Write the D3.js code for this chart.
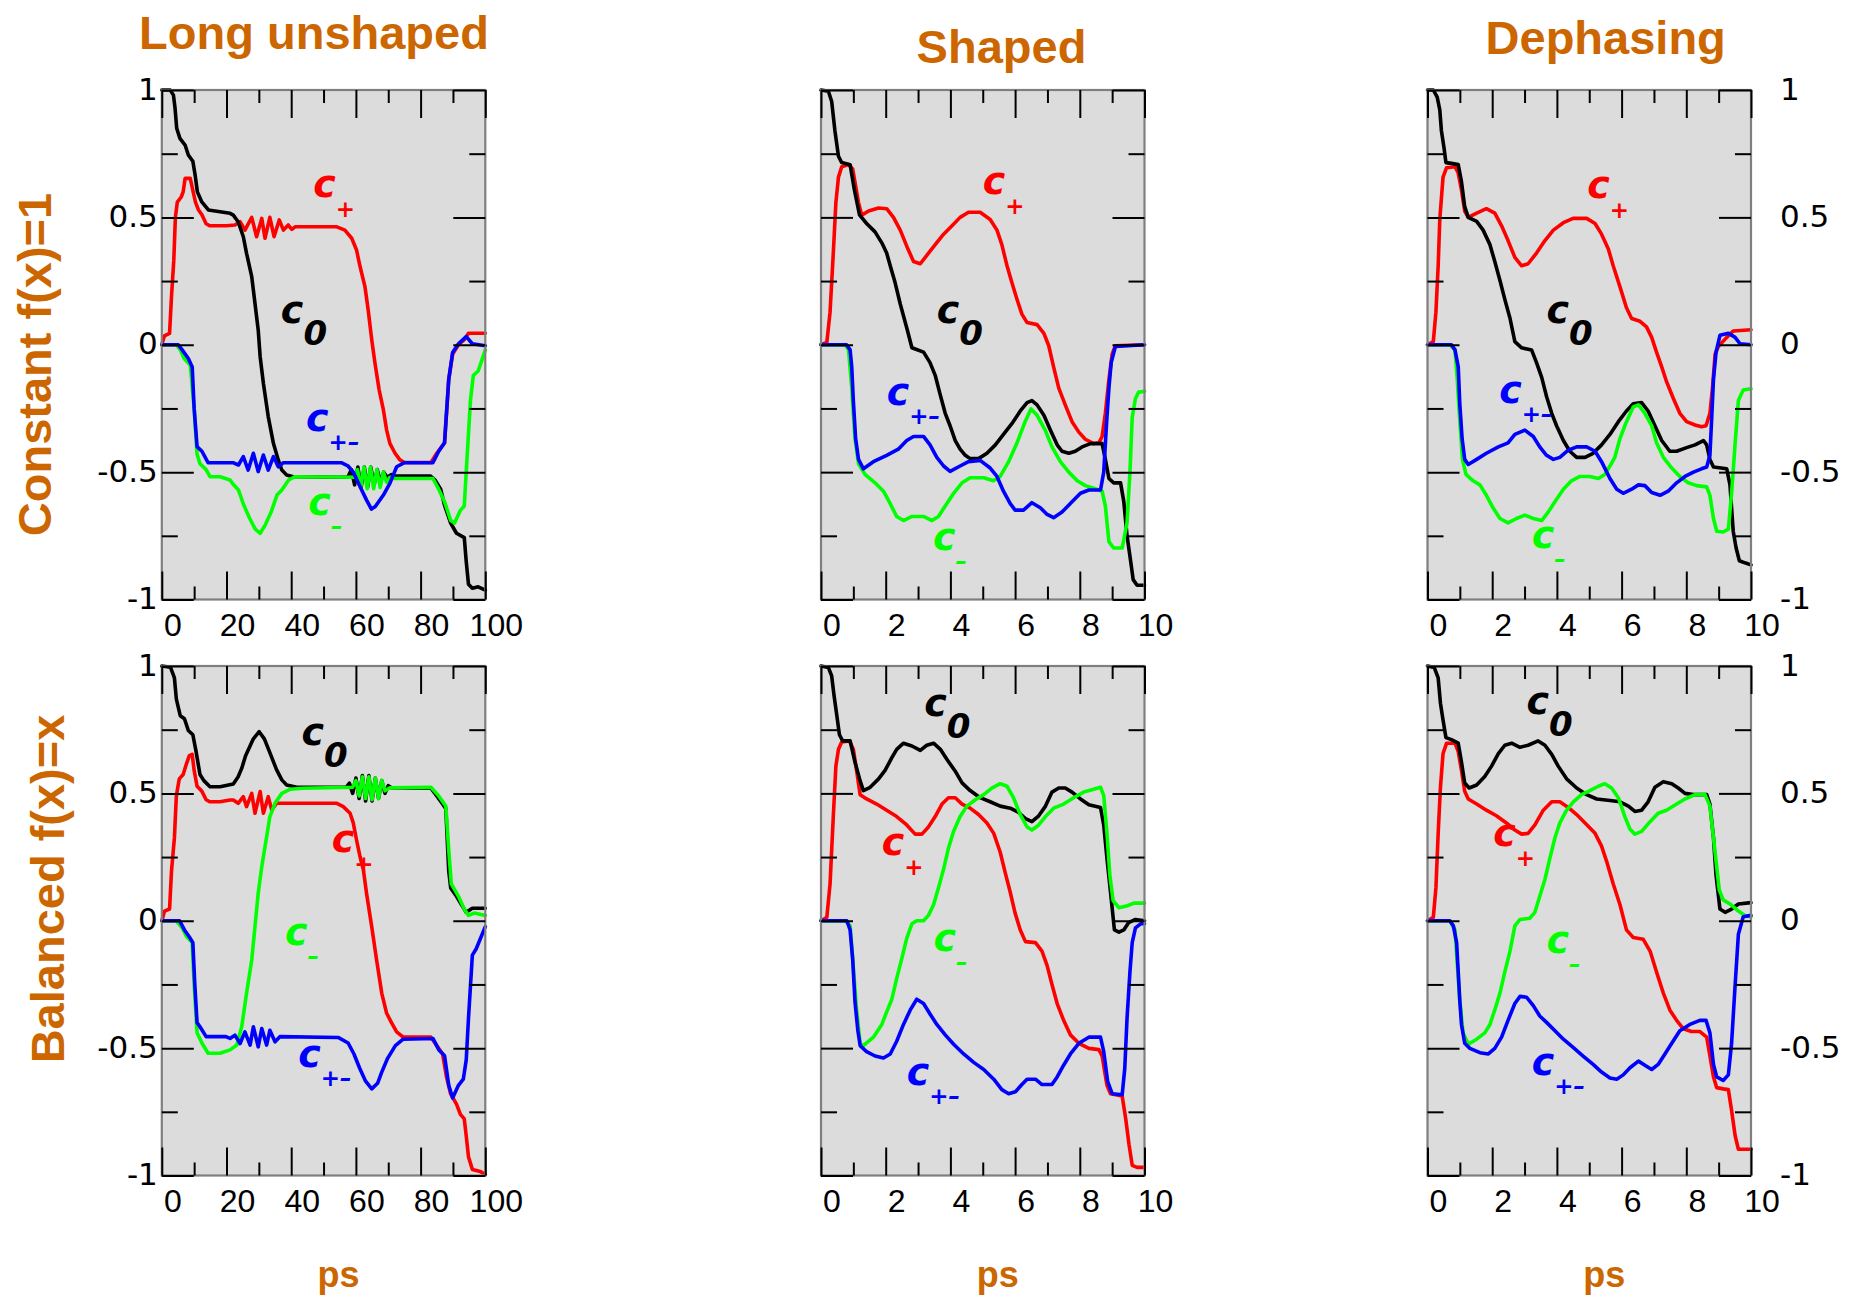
<!DOCTYPE html>
<html>
<head>
<meta charset="utf-8">
<script src="https://cdn.jsdelivr.net/npm/d3@7"></script>
<style>
  body { margin: 0; background: #ffffff; }
  svg { display: block; }
</style>
</head>
<body>
<svg id="chart" width="1852" height="1297"></svg>
<script>
// ---------------------------------------------------------------
// Column titles, row titles, axis ticks
// ---------------------------------------------------------------
const columnTitles = ["Long unshaped", "Shaped", "Dephasing"];
const rowTitles = ["Constant f(x)=1", "Balanced f(x)=x"];
const xDomains = [[0, 100], [0, 10], [0, 10]];
const xMajorTicks = [[0, 20, 40, 60, 80, 100], [0, 2, 4, 6, 8, 10], [0, 2, 4, 6, 8, 10]];
const xMinorTicks = [[10, 30, 50, 70, 90], [1, 3, 5, 7, 9], [1, 3, 5, 7, 9]];
const yMajorTicks = [1, 0.5, 0, -0.5, -1];
const yMinorTicks = [0.75, 0.25, -0.25, -0.75];
const yTickLabels = ["1", "0.5", "0", "-0.5", "-1"];
const xAxisName = "ps";

// Series: populations c0, c+, c+-, c-
const seriesOrder = ["cp", "c0", "cm", "cpm"];
const seriesColor = { c0: "#000000", cp: "#ff0000", cm: "#00ff00", cpm: "#0000ff" };
const seriesSub = { c0: "0", cp: "+", cpm: "+\u2013", cm: "\u2013" };

// ---------------------------------------------------------------
// Long unshaped pulse, constant f(x)=1   (x in ps, 0..100)
// ---------------------------------------------------------------
const unshapedConstC0 = [[0,1],[2.6,1],[3.6,0.98],[4.1,0.928],[4.6,0.85],[5.6,0.81],[7.2,0.784],[8.2,0.745],[9.6,0.72],[10.3,0.666],[11,0.6],[12.3,0.562],[14.4,0.529],[18,0.522],[21.1,0.516],[22.1,0.509],[23.6,0.483],[25.2,0.424],[26.2,0.359],[27.8,0.267],[28.8,0.163],[29.8,0.058],[30.4,-0.047],[31.4,-0.151],[32.9,-0.282],[34.5,-0.387],[36,-0.452],[37.1,-0.492],[38.6,-0.511],[40.6,-0.518],[54,-0.52],[57.5,-0.52],[58.6,-0.49],[59.6,-0.55],[60.6,-0.48],[61.6,-0.56],[62.6,-0.48],[63.6,-0.56],[64.6,-0.48],[65.6,-0.55],[66.6,-0.49],[67.6,-0.54],[68.6,-0.5],[69.6,-0.52],[71,-0.51],[72,-0.515],[83,-0.515],[84.4,-0.53],[86.2,-0.567],[87.4,-0.63],[89.3,-0.7],[91.1,-0.74],[93.5,-0.757],[94.1,-0.85],[94.8,-0.94],[96,-0.956],[97.8,-0.95],[100,-0.963]];
const unshapedConstCp = [[0,0],[0.8,0.035],[2.4,0.045],[3,0.19],[3.7,0.33],[4.2,0.5],[4.8,0.56],[6,0.58],[6.6,0.6],[7.2,0.653],[8.8,0.653],[9.7,0.6],[10.4,0.56],[11.3,0.53],[12.4,0.51],[13.7,0.475],[14.9,0.467],[20,0.467],[22.6,0.47],[24.2,0.483],[25.7,0.45],[27.8,0.5],[29.3,0.424],[30.9,0.496],[31.9,0.418],[33.4,0.5],[34.7,0.424],[36.3,0.49],[37.6,0.45],[39.1,0.47],[40.2,0.453],[41.2,0.463],[54.1,0.463],[56.6,0.45],[58.7,0.418],[60.2,0.372],[61.3,0.306],[62.8,0.228],[63.8,0.136],[64.9,0.019],[65.9,-0.073],[67.2,-0.178],[68.5,-0.256],[69.5,-0.335],[70.5,-0.387],[72.1,-0.426],[73.6,-0.452],[75,-0.462],[83.2,-0.462],[85,-0.426],[87.4,-0.385],[88.7,-0.136],[89.9,-0.037],[91.7,0],[93.5,0.02],[94.8,0.045],[100,0.045]];
const unshapedConstCpm = [[0,0],[5.1,0],[6.3,-0.02],[8.2,-0.054],[9.4,-0.087],[10,-0.25],[10.9,-0.4],[12.4,-0.418],[14.3,-0.463],[22,-0.463],[23.7,-0.472],[25.2,-0.439],[26.7,-0.492],[28.3,-0.426],[29.8,-0.498],[31.4,-0.433],[32.9,-0.492],[34.5,-0.439],[36,-0.479],[37.6,-0.463],[55.5,-0.463],[57.5,-0.475],[59.2,-0.5],[61.3,-0.557],[63.3,-0.61],[64.8,-0.645],[66,-0.635],[68.5,-0.59],[70.5,-0.544],[72.6,-0.479],[75,-0.463],[83.8,-0.463],[85.6,-0.418],[87.4,-0.385],[88.7,-0.136],[89.9,-0.03],[91.7,0.004],[94.1,0.032],[96,0.004],[100,-0.004]];
const unshapedConstCm = [[0,0],[4.5,0],[5.7,-0.02],[6.9,-0.054],[8.8,-0.08],[10,-0.25],[10.9,-0.43],[11.8,-0.467],[13.7,-0.49],[14.9,-0.518],[18,-0.518],[21.1,-0.531],[22.2,-0.55],[23.7,-0.57],[25.2,-0.625],[27.1,-0.68],[28.9,-0.724],[30.4,-0.74],[32,-0.707],[33.8,-0.657],[35.6,-0.59],[37.1,-0.57],[39.2,-0.531],[41.2,-0.518],[59.5,-0.52],[60.5,-0.49],[61.5,-0.56],[62.5,-0.48],[63.5,-0.565],[64.5,-0.48],[65.5,-0.565],[66.5,-0.49],[67.5,-0.56],[68.5,-0.5],[69.5,-0.54],[70.5,-0.52],[72,-0.525],[83.8,-0.525],[85.6,-0.567],[87.4,-0.616],[89.3,-0.69],[90.5,-0.7],[92.3,-0.65],[93.5,-0.633],[94.1,-0.5],[95.4,-0.22],[96.3,-0.12],[97.8,-0.103],[100,-0.02]];
const unshapedConstLabels = [["cp",46.8,0.581],["c0",36.8,0.084],["cpm",44.6,-0.339],["cm",45.3,-0.67]];

// ---------------------------------------------------------------
// Long unshaped pulse, balanced f(x)=x
// ---------------------------------------------------------------
const unshapedBalC0 = [[0,1],[2.7,0.995],[3.9,0.953],[4.5,0.87],[5.7,0.805],[7,0.793],[8.2,0.747],[9.6,0.73],[10.6,0.664],[11.8,0.574],[13,0.55],[14.9,0.526],[18,0.526],[22.1,0.537],[23.6,0.565],[24.7,0.598],[25.9,0.648],[28.3,0.714],[30.1,0.742],[31.7,0.714],[33.4,0.66],[35.5,0.592],[37.1,0.553],[38.6,0.533],[41.7,0.524],[57,0.524],[58,0.54],[59,0.5],[60,0.56],[61,0.48],[62,0.57],[63,0.47],[64,0.57],[65,0.47],[66,0.56],[67,0.48],[68,0.55],[69,0.5],[70,0.53],[71,0.522],[83.2,0.52],[85,0.49],[86.8,0.458],[87.8,0.44],[88.7,0.195],[89.3,0.129],[91.1,0.096],[92.3,0.07],[94.1,0.033],[96,0.049],[100,0.049]];
const unshapedBalCp = [[0,0],[0.85,0.038],[2.4,0.046],[3,0.195],[3.9,0.326],[4.5,0.49],[5.4,0.557],[6.6,0.574],[7.6,0.615],[8.5,0.648],[9.4,0.653],[10,0.59],[10.9,0.528],[12.4,0.508],[13.7,0.475],[14.9,0.467],[18,0.467],[21.1,0.474],[22.1,0.474],[23.6,0.461],[25.2,0.487],[26.2,0.448],[27.8,0.5],[28.8,0.422],[30.4,0.507],[31.4,0.422],[32.9,0.487],[34,0.435],[35.5,0.461],[37.1,0.461],[54.1,0.461],[56.1,0.448],[58.2,0.422],[59.2,0.383],[60.2,0.317],[61.3,0.25],[62.3,0.2],[63.3,0.107],[64.9,-0.024],[66.4,-0.154],[68,-0.285],[69.5,-0.363],[71,-0.4],[72.6,-0.436],[74.6,-0.457],[83.2,-0.457],[85,-0.49],[86.8,-0.523],[88,-0.613],[89.3,-0.68],[91.1,-0.72],[92.3,-0.76],[93.5,-0.778],[94.1,-0.844],[94.8,-0.927],[96,-0.976],[98.4,-0.984],[100,-0.996]];
const unshapedBalCpm = [[0,0],[5.5,0],[7,-0.036],[8.8,-0.069],[9.6,-0.086],[10.2,-0.25],[10.9,-0.4],[11.8,-0.416],[13.7,-0.455],[19.8,-0.455],[21.1,-0.462],[22.6,-0.449],[24.2,-0.482],[25.7,-0.436],[27.3,-0.488],[28.3,-0.416],[29.8,-0.495],[30.9,-0.423],[32.4,-0.488],[33.4,-0.43],[35,-0.475],[36.5,-0.455],[54.5,-0.458],[57.6,-0.48],[59.4,-0.523],[61.2,-0.58],[63,-0.63],[64.9,-0.66],[66.7,-0.638],[67.9,-0.597],[69.8,-0.54],[72.2,-0.49],[74.6,-0.465],[83.8,-0.462],[85.6,-0.506],[87.4,-0.53],[88.7,-0.646],[89.9,-0.696],[91.7,-0.646],[93.2,-0.622],[94.1,-0.547],[94.8,-0.383],[96,-0.135],[97.2,-0.11],[100,-0.023]];
const unshapedBalCm = [[0,0],[4.5,0],[6.3,-0.028],[7.6,-0.061],[9.4,-0.086],[10,-0.25],[10.9,-0.44],[12.4,-0.48],[14.3,-0.52],[18,-0.52],[21.1,-0.507],[23.2,-0.488],[24.7,-0.416],[26.2,-0.285],[27.8,-0.154],[28.8,-0.023],[29.8,0.108],[30.9,0.212],[32.4,0.33],[33.4,0.408],[35,0.461],[37.1,0.5],[39.6,0.516],[43.7,0.52],[59,0.524],[60,0.55],[61,0.49],[62,0.565],[63,0.48],[64,0.565],[65,0.475],[66,0.56],[67,0.48],[68,0.55],[69,0.51],[70.5,0.522],[83.2,0.524],[85.6,0.49],[87.8,0.45],[88.7,0.277],[89.5,0.145],[91.7,0.096],[93.5,0.046],[94.8,0.021],[96.6,0.03],[100,0.021]];
const unshapedBalLabels = [["c0",43.2,0.689],["cp",52.5,0.271],["cm",38.1,-0.095],["cpm",42.2,-0.575]];

// ---------------------------------------------------------------
// Shaped pulse, constant f(x)=1   (x in ps, 0..10)
// ---------------------------------------------------------------
const shapedConstC0 = [[0,1],[0.23,0.995],[0.33,0.955],[0.43,0.84],[0.54,0.74],[0.64,0.715],[0.9,0.707],[1.03,0.61],[1.19,0.51],[1.41,0.476],[1.67,0.443],[1.88,0.4],[2.03,0.36],[2.14,0.31],[2.29,0.244],[2.45,0.16],[2.66,0.062],[2.81,-0.012],[3.17,-0.029],[3.37,-0.07],[3.53,-0.12],[3.68,-0.194],[3.84,-0.269],[3.99,-0.318],[4.15,-0.376],[4.3,-0.41],[4.46,-0.434],[4.61,-0.447],[4.87,-0.447],[5.13,-0.426],[5.39,-0.393],[5.64,-0.352],[5.9,-0.31],[6.16,-0.26],[6.37,-0.227],[6.52,-0.219],[6.68,-0.236],[6.89,-0.277],[7.09,-0.335],[7.3,-0.393],[7.45,-0.418],[7.66,-0.426],[7.86,-0.418],[8.07,-0.401],[8.33,-0.388],[8.69,-0.388],[8.79,-0.45],[8.9,-0.525],[9.05,-0.542],[9.26,-0.542],[9.36,-0.616],[9.46,-0.749],[9.57,-0.848],[9.65,-0.922],[9.77,-0.944],[10,-0.944]];
const shapedConstCp = [[0,0],[0.18,0.009],[0.28,0.128],[0.38,0.36],[0.46,0.558],[0.54,0.658],[0.64,0.699],[0.85,0.707],[0.98,0.69],[1.07,0.624],[1.16,0.558],[1.26,0.509],[1.47,0.525],[1.78,0.537],[2.03,0.534],[2.24,0.5],[2.45,0.45],[2.66,0.384],[2.86,0.327],[3.07,0.318],[3.27,0.351],[3.53,0.393],[3.79,0.434],[4.05,0.467],[4.3,0.5],[4.56,0.52],[4.92,0.52],[5.23,0.492],[5.44,0.45],[5.59,0.393],[5.75,0.31],[5.9,0.244],[6.06,0.178],[6.21,0.12],[6.37,0.087],[6.68,0.079],[6.89,0.045],[7.04,-0.004],[7.19,-0.087],[7.35,-0.17],[7.55,-0.236],[7.76,-0.302],[7.97,-0.343],[8.17,-0.371],[8.43,-0.388],[8.59,-0.385],[8.69,-0.36],[8.79,-0.269],[8.9,-0.136],[9,-0.037],[9.1,-0.004],[10,0]];
const shapedConstCpm = [[0,0],[0.79,0],[0.9,-0.02],[0.95,-0.087],[1,-0.22],[1.07,-0.368],[1.16,-0.45],[1.31,-0.487],[1.62,-0.459],[2.03,-0.434],[2.39,-0.41],[2.65,-0.376],[2.86,-0.36],[3.17,-0.36],[3.37,-0.393],[3.58,-0.442],[3.79,-0.476],[3.99,-0.497],[4.3,-0.476],[4.56,-0.459],[4.92,-0.454],[5.23,-0.484],[5.44,-0.517],[5.64,-0.575],[5.85,-0.624],[6,-0.649],[6.26,-0.649],[6.52,-0.62],[6.78,-0.64],[6.99,-0.666],[7.19,-0.679],[7.45,-0.657],[7.76,-0.616],[8.02,-0.583],[8.28,-0.57],[8.64,-0.57],[8.74,-0.5],[8.83,-0.302],[8.9,-0.17],[8.97,-0.07],[9.1,-0.007],[10,0]];
const shapedConstCm = [[0,0],[0.75,0],[0.85,-0.02],[0.95,-0.17],[1.05,-0.368],[1.16,-0.467],[1.36,-0.509],[1.67,-0.542],[1.93,-0.575],[2.14,-0.624],[2.34,-0.674],[2.55,-0.69],[2.81,-0.674],[3.17,-0.674],[3.43,-0.69],[3.63,-0.674],[3.84,-0.633],[4.1,-0.583],[4.36,-0.542],[4.61,-0.522],[5.03,-0.522],[5.33,-0.534],[5.54,-0.517],[5.8,-0.459],[6.06,-0.385],[6.31,-0.302],[6.49,-0.252],[6.68,-0.277],[6.93,-0.335],[7.14,-0.401],[7.4,-0.459],[7.66,-0.5],[7.92,-0.534],[8.17,-0.553],[8.43,-0.563],[8.69,-0.575],[8.79,-0.633],[8.9,-0.773],[9.05,-0.798],[9.31,-0.798],[9.46,-0.699],[9.55,-0.5],[9.62,-0.285],[9.72,-0.211],[9.82,-0.186],[10,-0.183]];
const shapedConstLabels = [["cp",5.0,0.591],["c0",3.58,0.087],["cpm",2.03,-0.236],["cm",3.46,-0.806]];

// ---------------------------------------------------------------
// Shaped pulse, balanced f(x)=x
// ---------------------------------------------------------------
const shapedBalC0 = [[0,1],[0.23,0.994],[0.33,0.961],[0.4,0.887],[0.49,0.805],[0.57,0.73],[0.67,0.706],[0.9,0.706],[1.05,0.623],[1.21,0.549],[1.31,0.511],[1.52,0.524],[1.78,0.557],[1.98,0.59],[2.19,0.64],[2.34,0.673],[2.55,0.697],[2.81,0.686],[3.07,0.669],[3.27,0.689],[3.48,0.697],[3.69,0.673],[3.9,0.632],[4.15,0.587],[4.36,0.541],[4.61,0.511],[4.92,0.483],[5.23,0.467],[5.54,0.45],[5.85,0.442],[6.11,0.425],[6.32,0.401],[6.52,0.389],[6.73,0.412],[6.94,0.45],[7.14,0.505],[7.35,0.521],[7.55,0.521],[7.76,0.505],[8.02,0.478],[8.28,0.455],[8.64,0.445],[8.74,0.376],[8.84,0.244],[8.95,0.112],[9.07,-0.036],[9.21,-0.045],[9.36,-0.036],[9.51,-0.007],[9.72,0.005],[10,0]];
const shapedBalCp = [[0,0],[0.18,0.013],[0.28,0.145],[0.38,0.409],[0.46,0.607],[0.54,0.673],[0.64,0.702],[0.88,0.706],[1,0.673],[1.1,0.59],[1.21,0.495],[1.41,0.478],[1.72,0.458],[2.03,0.434],[2.34,0.409],[2.65,0.376],[2.91,0.34],[3.12,0.34],[3.32,0.368],[3.53,0.409],[3.74,0.458],[3.94,0.483],[4.15,0.483],[4.36,0.458],[4.61,0.442],[4.87,0.417],[5.13,0.384],[5.34,0.343],[5.54,0.269],[5.7,0.186],[5.85,0.112],[6,0.03],[6.16,-0.036],[6.32,-0.082],[6.63,-0.086],[6.83,-0.119],[6.99,-0.176],[7.14,-0.25],[7.3,-0.325],[7.5,-0.391],[7.71,-0.448],[7.97,-0.481],[8.28,-0.501],[8.59,-0.506],[8.69,-0.531],[8.84,-0.646],[8.95,-0.679],[9.31,-0.688],[9.42,-0.778],[9.52,-0.877],[9.62,-0.96],[9.77,-0.968],[10,-0.968]];
const shapedBalCpm = [[0,0],[0.8,0],[0.9,-0.036],[0.98,-0.152],[1.05,-0.317],[1.14,-0.432],[1.21,-0.49],[1.41,-0.514],[1.67,-0.531],[1.93,-0.539],[2.14,-0.523],[2.34,-0.473],[2.55,-0.407],[2.76,-0.35],[2.96,-0.308],[3.17,-0.325],[3.37,-0.366],[3.58,-0.407],[3.84,-0.448],[4.1,-0.485],[4.41,-0.523],[4.72,-0.556],[5.03,-0.584],[5.34,-0.622],[5.59,-0.663],[5.8,-0.679],[6.01,-0.671],[6.21,-0.643],[6.37,-0.622],[6.63,-0.622],[6.83,-0.643],[7.14,-0.643],[7.3,-0.613],[7.5,-0.567],[7.71,-0.523],[7.97,-0.481],[8.28,-0.457],[8.64,-0.457],[8.74,-0.514],[8.86,-0.63],[9,-0.679],[9.31,-0.683],[9.39,-0.58],[9.46,-0.383],[9.55,-0.201],[9.62,-0.086],[9.72,-0.028],[9.88,-0.012],[10,-0.012]];
const shapedBalCm = [[0,0],[0.75,0],[0.9,-0.02],[1,-0.185],[1.1,-0.35],[1.21,-0.481],[1.31,-0.49],[1.62,-0.457],[1.88,-0.407],[2.03,-0.358],[2.19,-0.308],[2.34,-0.226],[2.49,-0.152],[2.65,-0.069],[2.81,-0.012],[2.96,0],[3.17,0],[3.32,0.021],[3.48,0.063],[3.63,0.129],[3.79,0.203],[3.94,0.285],[4.1,0.351],[4.3,0.409],[4.51,0.45],[4.77,0.475],[5.03,0.495],[5.28,0.521],[5.54,0.538],[5.75,0.528],[5.95,0.483],[6.16,0.417],[6.37,0.368],[6.52,0.356],[6.73,0.376],[6.94,0.409],[7.19,0.442],[7.5,0.458],[7.81,0.483],[8.12,0.505],[8.43,0.516],[8.64,0.524],[8.74,0.491],[8.84,0.343],[8.93,0.178],[9.03,0.079],[9.21,0.051],[9.47,0.059],[9.67,0.069],[10,0.069]];
const shapedBalLabels = [["c0",3.19,0.805],["cp",1.88,0.26],["cm",3.48,-0.119],["cpm",2.65,-0.646]];

// ---------------------------------------------------------------
// Dephasing, constant f(x)=1
// ---------------------------------------------------------------
const dephConstC0 = [[0,1],[0.18,1],[0.3,0.972],[0.38,0.922],[0.43,0.84],[0.51,0.773],[0.57,0.715],[0.74,0.712],[0.95,0.707],[1.05,0.64],[1.15,0.542],[1.26,0.5],[1.52,0.484],[1.72,0.45],[1.93,0.393],[2.08,0.327],[2.24,0.252],[2.39,0.178],[2.55,0.104],[2.7,0.012],[2.91,-0.012],[3.22,-0.021],[3.37,-0.07],[3.53,-0.128],[3.68,-0.203],[3.84,-0.269],[3.99,-0.318],[4.2,-0.376],[4.4,-0.418],[4.61,-0.442],[4.87,-0.442],[5.12,-0.426],[5.38,-0.393],[5.64,-0.352],[5.9,-0.302],[6.15,-0.26],[6.36,-0.232],[6.62,-0.227],[6.82,-0.26],[7.03,-0.318],[7.24,-0.376],[7.49,-0.418],[7.7,-0.418],[8.01,-0.404],[8.27,-0.393],[8.53,-0.376],[8.63,-0.393],[8.73,-0.45],[8.84,-0.48],[9.25,-0.487],[9.35,-0.55],[9.45,-0.732],[9.54,-0.798],[9.64,-0.848],[9.81,-0.856],[10,-0.864]];
const dephConstCp = [[0,0],[0.18,0.012],[0.26,0.128],[0.33,0.31],[0.38,0.492],[0.48,0.658],[0.59,0.695],[0.85,0.699],[0.95,0.674],[1.05,0.608],[1.15,0.525],[1.26,0.5],[1.52,0.517],[1.82,0.534],[2.08,0.517],[2.29,0.467],[2.49,0.409],[2.7,0.343],[2.91,0.31],[3.11,0.318],[3.37,0.36],[3.63,0.409],[3.89,0.45],[4.2,0.479],[4.5,0.496],[4.92,0.496],[5.18,0.476],[5.38,0.434],[5.59,0.376],[5.74,0.31],[5.95,0.227],[6.15,0.145],[6.31,0.103],[6.57,0.092],[6.77,0.07],[6.93,0.029],[7.08,-0.029],[7.24,-0.087],[7.39,-0.145],[7.6,-0.211],[7.8,-0.269],[8.01,-0.302],[8.27,-0.315],[8.47,-0.322],[8.61,-0.318],[8.73,-0.269],[8.81,-0.17],[8.89,-0.037],[8.99,-0.007],[9.25,0.029],[9.45,0.054],[10,0.059]];
const dephConstCpm = [[0,0],[0.74,0],[0.85,-0.02],[0.95,-0.087],[1,-0.236],[1.07,-0.368],[1.15,-0.45],[1.26,-0.47],[1.52,-0.45],[1.82,-0.426],[2.19,-0.401],[2.49,-0.385],[2.7,-0.352],[3.01,-0.335],[3.27,-0.36],[3.47,-0.401],[3.68,-0.434],[3.89,-0.45],[4.09,-0.442],[4.35,-0.414],[4.61,-0.401],[4.92,-0.401],[5.18,-0.418],[5.38,-0.459],[5.64,-0.525],[5.85,-0.567],[6.05,-0.583],[6.31,-0.567],[6.52,-0.55],[6.72,-0.553],[6.93,-0.58],[7.19,-0.591],[7.44,-0.575],[7.7,-0.542],[7.96,-0.517],[8.22,-0.5],[8.47,-0.487],[8.63,-0.48],[8.73,-0.434],[8.78,-0.302],[8.84,-0.136],[8.92,-0.029],[9.04,0.037],[9.3,0.045],[9.51,0.029],[9.66,0.004],[10,0]];
const dephConstCm = [[0,0],[0.69,0],[0.85,-0.02],[0.92,-0.136],[1,-0.302],[1.08,-0.45],[1.19,-0.509],[1.41,-0.534],[1.62,-0.55],[1.82,-0.591],[2.03,-0.641],[2.24,-0.682],[2.49,-0.699],[2.75,-0.682],[3.01,-0.669],[3.27,-0.682],[3.53,-0.69],[3.73,-0.657],[3.94,-0.616],[4.2,-0.567],[4.45,-0.534],[4.71,-0.517],[5.02,-0.517],[5.28,-0.525],[5.48,-0.509],[5.64,-0.476],[5.79,-0.442],[5.95,-0.368],[6.15,-0.302],[6.36,-0.244],[6.52,-0.236],[6.72,-0.269],[6.93,-0.318],[7.08,-0.385],[7.29,-0.442],[7.55,-0.484],[7.8,-0.517],[8.06,-0.542],[8.32,-0.553],[8.63,-0.558],[8.73,-0.591],[8.84,-0.682],[8.94,-0.732],[9.14,-0.735],[9.3,-0.724],[9.4,-0.583],[9.51,-0.385],[9.61,-0.219],[9.76,-0.178],[10,-0.173]];
const dephConstLabels = [["cp",4.94,0.575],["c0",3.68,0.087],["cpm",2.22,-0.227],["cm",3.22,-0.798]];

// ---------------------------------------------------------------
// Dephasing, balanced f(x)=x
// ---------------------------------------------------------------
const dephBalC0 = [[0,1],[0.21,0.994],[0.33,0.953],[0.4,0.854],[0.48,0.788],[0.57,0.719],[0.74,0.711],[0.95,0.697],[1.05,0.623],[1.15,0.541],[1.29,0.521],[1.52,0.533],[1.77,0.566],[1.98,0.607],[2.19,0.656],[2.39,0.689],[2.6,0.697],[2.86,0.681],[3.11,0.689],[3.42,0.706],[3.63,0.689],[3.84,0.653],[4.04,0.607],[4.3,0.557],[4.61,0.521],[4.92,0.495],[5.23,0.478],[5.64,0.472],[5.95,0.467],[6.21,0.45],[6.41,0.429],[6.62,0.434],[6.82,0.467],[7.03,0.524],[7.29,0.546],[7.55,0.538],[7.75,0.521],[7.96,0.5],[8.22,0.495],[8.63,0.495],[8.73,0.458],[8.84,0.326],[8.92,0.178],[9.04,0.046],[9.2,0.033],[9.4,0.046],[9.61,0.066],[10,0.071]];
const dephBalCp = [[0,0],[0.18,0.013],[0.26,0.129],[0.33,0.343],[0.4,0.524],[0.48,0.656],[0.59,0.697],[0.85,0.697],[0.95,0.664],[1.05,0.59],[1.15,0.508],[1.26,0.478],[1.52,0.458],[1.82,0.434],[2.13,0.412],[2.44,0.384],[2.7,0.356],[2.91,0.34],[3.11,0.343],[3.32,0.376],[3.58,0.434],[3.84,0.467],[4.09,0.467],[4.35,0.445],[4.61,0.417],[4.87,0.384],[5.18,0.343],[5.38,0.293],[5.55,0.228],[5.74,0.145],[5.95,0.063],[6.15,-0.036],[6.36,-0.066],[6.67,-0.073],[6.88,-0.119],[7.08,-0.201],[7.29,-0.284],[7.49,-0.35],[7.7,-0.391],[7.91,-0.424],[8.16,-0.435],[8.42,-0.435],[8.63,-0.457],[8.73,-0.531],[8.84,-0.613],[8.94,-0.655],[9.14,-0.66],[9.3,-0.663],[9.4,-0.745],[9.51,-0.844],[9.61,-0.897],[10,-0.897]];
const dephBalCpm = [[0,0],[0.69,0],[0.8,-0.02],[0.9,-0.086],[0.95,-0.201],[1,-0.317],[1.05,-0.407],[1.15,-0.481],[1.31,-0.501],[1.62,-0.518],[1.88,-0.523],[2.08,-0.501],[2.29,-0.457],[2.49,-0.391],[2.7,-0.325],[2.86,-0.297],[3.06,-0.3],[3.27,-0.333],[3.47,-0.374],[3.68,-0.399],[3.94,-0.432],[4.2,-0.465],[4.51,-0.498],[4.81,-0.531],[5.12,-0.564],[5.38,-0.594],[5.64,-0.617],[5.85,-0.622],[6.05,-0.605],[6.26,-0.577],[6.52,-0.551],[6.72,-0.567],[6.93,-0.584],[7.13,-0.564],[7.34,-0.523],[7.55,-0.481],[7.8,-0.432],[8.11,-0.407],[8.42,-0.391],[8.61,-0.391],[8.73,-0.44],[8.84,-0.564],[8.94,-0.613],[9.14,-0.627],[9.3,-0.605],[9.4,-0.481],[9.51,-0.251],[9.61,-0.053],[9.76,0.016],[10,0.021]];
const dephBalCm = [[0,0],[0.69,0],[0.85,-0.036],[0.92,-0.168],[1,-0.317],[1.1,-0.44],[1.26,-0.485],[1.52,-0.465],[1.77,-0.44],[1.93,-0.407],[2.08,-0.35],[2.24,-0.284],[2.39,-0.201],[2.55,-0.119],[2.7,-0.02],[2.86,0.005],[3.16,0.01],[3.32,0.033],[3.47,0.096],[3.63,0.162],[3.78,0.244],[3.94,0.326],[4.09,0.384],[4.3,0.434],[4.51,0.467],[4.76,0.495],[5.02,0.511],[5.28,0.528],[5.48,0.538],[5.69,0.521],[5.9,0.483],[6.1,0.409],[6.26,0.359],[6.41,0.34],[6.62,0.351],[6.88,0.389],[7.13,0.422],[7.39,0.434],[7.7,0.458],[7.96,0.478],[8.27,0.495],[8.58,0.495],[8.73,0.45],[8.84,0.326],[8.94,0.211],[9.02,0.12],[9.14,0.082],[9.35,0.066],[9.61,0.038],[9.81,0.021],[10,0.016]];
const dephBalLabels = [["c0",3.06,0.813],["cp",2.03,0.293],["cm",3.68,-0.127],["cpm",3.22,-0.605]];

// ---------------------------------------------------------------
// Panel grid
// ---------------------------------------------------------------
const panels = [
  { row: 0, col: 0, lines: { c0: unshapedConstC0, cp: unshapedConstCp, cpm: unshapedConstCpm, cm: unshapedConstCm }, labels: unshapedConstLabels },
  { row: 0, col: 1, lines: { c0: shapedConstC0, cp: shapedConstCp, cpm: shapedConstCpm, cm: shapedConstCm }, labels: shapedConstLabels },
  { row: 0, col: 2, lines: { c0: dephConstC0, cp: dephConstCp, cpm: dephConstCpm, cm: dephConstCm }, labels: dephConstLabels },
  { row: 1, col: 0, lines: { c0: unshapedBalC0, cp: unshapedBalCp, cpm: unshapedBalCpm, cm: unshapedBalCm }, labels: unshapedBalLabels },
  { row: 1, col: 1, lines: { c0: shapedBalC0, cp: shapedBalCp, cpm: shapedBalCpm, cm: shapedBalCm }, labels: shapedBalLabels },
  { row: 1, col: 2, lines: { c0: dephBalC0, cp: dephBalCp, cpm: dephBalCpm, cm: dephBalCm }, labels: dephBalLabels }
];

// Layout (pixels)
const colLeft = [161.8, 821, 1427.5];
const plotW = 323.5;
const rowTop = [90, 666];
const plotH = 509.5;
const orange = "#cc6600";
const xTickFont = "'Liberation Sans', Arial, sans-serif";
const yTickFont = "'DejaVu Sans', sans-serif";
const boldFont = "'Liberation Sans', Arial, sans-serif";
const labelFont = "'DejaVu Sans', sans-serif";

const svg = d3.select("#chart");
svg.append("rect").attr("width", 1852).attr("height", 1297).attr("fill", "#ffffff");

function tickAxis(g, axisFn, scale, values, size, transform) {
  const ax = g.append("g")
    .attr("transform", transform)
    .call(axisFn(scale).tickValues(values).tickSize(size).tickFormat(""));
  ax.select(".domain").remove();
  ax.selectAll("text").remove();
  ax.selectAll("line").attr("stroke", "#000").attr("stroke-width", 2);
}

// subscript size and drop below the "c" baseline
const subStyle = {
  c0:  { size: 34, dy: 22 },
  cp:  { size: 23, dy: 20 },
  cpm: { size: 23, dy: 19 },
  cm:  { size: 23, dy: 19 }
};

panels.forEach(p => {
  const left = colLeft[p.col], top = rowTop[p.row];
  const right = left + plotW, bottom = top + plotH;
  const x = d3.scaleLinear().domain(xDomains[p.col]).range([left, right]);
  const y = d3.scaleLinear().domain([-1, 1]).range([bottom, top]);
  const g = svg.append("g");

  // plot background
  g.append("rect").attr("x", left).attr("y", top).attr("width", plotW).attr("height", plotH)
    .attr("fill", "#dcdcdc");

  // curves
  const line = d3.line().x(d => x(d[0])).y(d => y(d[1]));
  seriesOrder.forEach(k => {
    g.append("path").datum(p.lines[k])
      .attr("d", line)
      .attr("fill", "none")
      .attr("stroke", seriesColor[k])
      .attr("stroke-width", 3.6)
      .attr("stroke-linejoin", "round")
      .attr("stroke-linecap", "round");
  });

  // frame
  g.append("rect").attr("x", left).attr("y", top).attr("width", plotW).attr("height", plotH)
    .attr("fill", "none").attr("stroke", "#7f7f7f").attr("stroke-width", 2.2);

  // inward ticks on all four sides
  tickAxis(g, d3.axisBottom, x, xMajorTicks[p.col], -28, `translate(0,${bottom})`);
  tickAxis(g, d3.axisBottom, x, xMinorTicks[p.col], -13, `translate(0,${bottom})`);
  tickAxis(g, d3.axisTop, x, xMajorTicks[p.col], -28, `translate(0,${top})`);
  tickAxis(g, d3.axisTop, x, xMinorTicks[p.col], -13, `translate(0,${top})`);
  tickAxis(g, d3.axisLeft, y, yMajorTicks, -32, `translate(${left},0)`);
  tickAxis(g, d3.axisLeft, y, yMinorTicks, -16, `translate(${left},0)`);
  tickAxis(g, d3.axisRight, y, yMajorTicks, -32, `translate(${right},0)`);
  tickAxis(g, d3.axisRight, y, yMinorTicks, -16, `translate(${right},0)`);

  // x tick labels
  g.selectAll("text.xt").data(xMajorTicks[p.col]).enter().append("text")
    .attr("class", "xt")
    .attr("x", d => x(d) + 11)
    .attr("y", bottom + 36.5)
    .attr("text-anchor", "middle")
    .attr("font-family", xTickFont)
    .attr("font-size", 32)
    .attr("fill", "#000")
    .text(d => d);

  // y tick labels: left of first column, right of last column
  if (p.col === 0 || p.col === 2) {
    g.selectAll("text.yt").data(yMajorTicks).enter().append("text")
      .attr("class", "yt")
      .attr("x", p.col === 0 ? left - 4 : right + 29)
      .attr("y", d => y(d) + 9.5)
      .attr("text-anchor", p.col === 0 ? "end" : "start")
      .attr("font-family", yTickFont)
      .attr("font-size", 31)
      .attr("fill", "#000")
      .text((d, i) => yTickLabels[i]);
  }

  // series labels c with subscript
  p.labels.forEach(([k, lx, ly]) => {
    const t = g.append("text")
      .attr("x", x(lx)).attr("y", y(ly))
      .attr("font-family", labelFont)
      .attr("font-style", "italic")
      .attr("font-weight", "bold")
      .attr("fill", seriesColor[k]);
    t.append("tspan").attr("font-size", 38).text("c");
    const s = subStyle[k];
    t.append("tspan").text(seriesSub[k])
      .attr("font-size", s.size).attr("dy", s.dy);
  });
});

// column titles
const titleX = [314, 1001.5, 1605.7];
const titleY = [48.7, 62.6, 54.2];
columnTitles.forEach((s, i) => {
  svg.append("text")
    .attr("x", titleX[i]).attr("y", titleY[i])
    .attr("text-anchor", "middle")
    .attr("font-family", boldFont).attr("font-weight", "bold")
    .attr("font-size", 47).attr("fill", orange)
    .text(s);
});

// row titles (rotated)
const rowTitleBase = [51, 63.5];
const rowTitleMid = [364.5, 889];
rowTitles.forEach((s, i) => {
  svg.append("text")
    .attr("transform", `translate(${rowTitleBase[i]},${rowTitleMid[i]}) rotate(-90)`)
    .attr("text-anchor", "middle")
    .attr("font-family", boldFont).attr("font-weight", "bold")
    .attr("font-size", 47).attr("fill", orange)
    .text(s);
});

// x-axis names under the bottom row
colLeft.forEach(l => {
  svg.append("text")
    .attr("x", l + plotW / 2 + 15).attr("y", 1287)
    .attr("text-anchor", "middle")
    .attr("font-family", boldFont).attr("font-weight", "bold")
    .attr("font-size", 36).attr("fill", orange)
    .text(xAxisName);
});
</script>
</body>
</html>
